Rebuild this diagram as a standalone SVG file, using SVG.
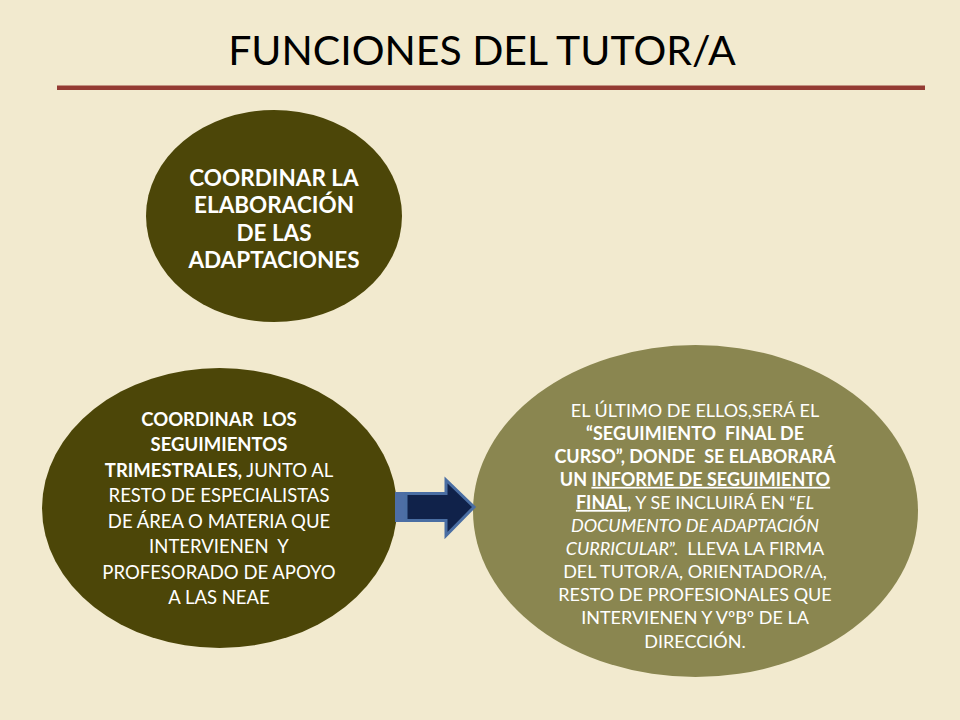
<svg xmlns="http://www.w3.org/2000/svg" width="960" height="720" viewBox="0 0 960 720">
<style>
.bg{fill:#f2eacf}
.dark{fill:#4c4608}
.light{fill:#8a8650}
.t{font-family:Lato,"Open Sans","Liberation Sans",sans-serif;fill:#ffffff;text-anchor:middle;white-space:pre}
.b{font-weight:700}
.i{font-style:italic}
.u{text-decoration:underline}
.title{font-family:Lato,"Open Sans","Liberation Sans",sans-serif;font-size:41px;fill:#000000;text-anchor:middle}
</style>
<rect class="bg" x="0" y="0" width="960" height="720"/>
<g id="header">
<text class="title" x="482" y="65">FUNCIONES DEL TUTOR/A</text>
<rect x="57" y="85.5" width="868" height="4.5" fill="#943b33"/>
</g>
<g id="node-top">
<ellipse class="dark" cx="274" cy="216" rx="128" ry="106"/>
<text class="t b" style="font-size:22.5px"><tspan x="274" y="185.5">COORDINAR LA</tspan><tspan x="274" y="213">ELABORACIÓN</tspan><tspan x="274" y="240.5">DE LAS</tspan><tspan x="274" y="268">ADAPTACIONES</tspan></text>
</g>
<g id="node-left">
<ellipse class="dark" cx="219.5" cy="508" rx="177.5" ry="140"/>
<text class="t" style="font-size:18.5px"><tspan class="b" x="219" y="425.5">COORDINAR  LOS</tspan><tspan class="b" x="219" y="451">SEGUIMIENTOS</tspan><tspan x="219" y="476.5"><tspan class="b">TRIMESTRALES,</tspan> JUNTO AL</tspan><tspan x="219" y="502">RESTO DE ESPECIALISTAS</tspan><tspan x="219" y="527.5">DE ÁREA O MATERIA QUE</tspan><tspan x="219" y="553">INTERVIENEN  Y</tspan><tspan x="219" y="578.5">PROFESORADO DE APOYO</tspan><tspan x="219" y="604">A LAS NEAE</tspan></text>
</g>
<g id="node-right">
<ellipse class="light" cx="695.5" cy="511" rx="222.5" ry="166"/>
<text class="t" style="font-size:18px"><tspan x="695" y="416.5">EL ÚLTIMO DE ELLOS,SERÁ EL</tspan><tspan class="b" x="695" y="439.6">“SEGUIMIENTO  FINAL DE</tspan><tspan class="b" x="695" y="462.7">CURSO”, DONDE  SE ELABORARÁ</tspan><tspan class="b" x="695" y="485.8">UN <tspan class="u">INFORME DE SEGUIMIENTO</tspan></tspan><tspan x="695" y="508.9"><tspan class="b u">FINAL</tspan><tspan class="b">,</tspan> Y SE INCLUIRÁ EN “<tspan class="i">EL</tspan></tspan><tspan class="i" x="695" y="532">DOCUMENTO DE ADAPTACIÓN</tspan><tspan x="695" y="555.1"><tspan class="i">CURRICULAR</tspan>”.  LLEVA LA FIRMA</tspan><tspan x="695" y="578.2">DEL TUTOR/A, ORIENTADOR/A,</tspan><tspan x="695" y="601.3">RESTO DE PROFESIONALES QUE</tspan><tspan x="695" y="624.4">INTERVIENEN Y VºBº DE LA</tspan><tspan x="695" y="647.5">DIRECCIÓN.</tspan></text>
</g>
<g id="connectors">
<rect x="395" y="492" width="11" height="30" fill="#4d6ea5"/>
<path d="M406,493.5 H446 V480 L474,507 L446,535.5 V520.5 H406 Z" fill="#10224a" stroke="#4a6ea3" stroke-width="3" stroke-linejoin="miter"/>
</g>
</svg>
